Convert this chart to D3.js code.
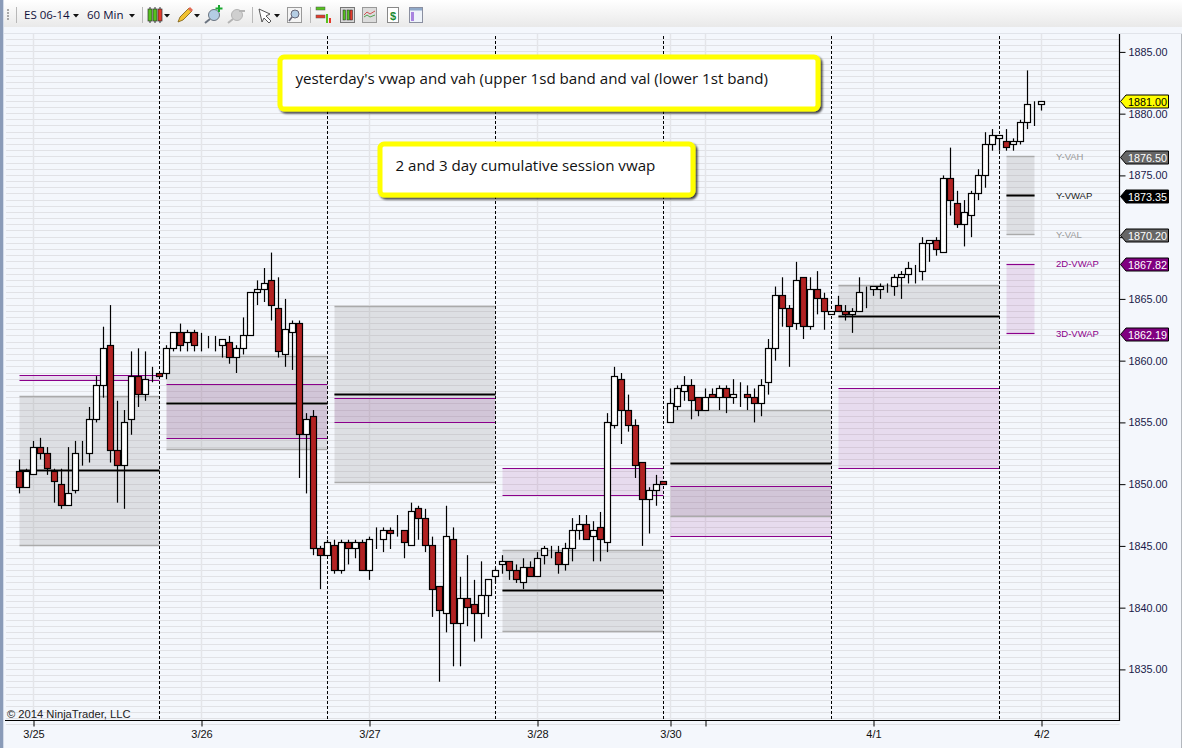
<!DOCTYPE html>
<html>
<head>
<meta charset="utf-8">
<script src="https://cdn.jsdelivr.net/npm/d3@7"></script>
<style>
  html, body { margin: 0; padding: 0; background: #f4f7fc; overflow: hidden; }
  svg { display: block; }
  text { font-family: "Liberation Sans", Arial, sans-serif; }
  .ui { font-family: "Open Sans", "Noto Sans", sans-serif; }
</style>
</head>
<body>
<div id="chart"></div>
<script>
// hourly candles
const opens = [
  1851,1849.75,1850.75,1853,1852.5,1851,1850,1848.25,1849.5,1852.5,
  1852.5,1855.25,1858,1861.25,1852.75,1851.5,1855.25,1858.75,1857.25,1858.75,
  1859,1859,1861,1862.25,1861.5,1862.25,1861.25,1861.25,1861.25,1861.25,
  1861.5,1860.25,1861,1862,1865.5,1865.75,1866.5,1864.25,1860.5,1862.25,
  1863,1854,1855.5,1844.75,1844.25,1845,1843,1845.25,1844.75,1845.25,
  1843,1845.75,1845.5,1846.25,1846,1846.25,1845,1848,1847.25,1845,
  1841.75,1839.5,1845.5,1838.75,1840.75,1840.25,1839.5,1841,1842.5,1843.5,
  1843.75,1843,1842,1843.25,1842.5,1844.25,1844.75,1844.5,1843.5,1844.75,
  1846.25,1846.75,1845.75,1846.5,1845.25,1854.75,1858.5,1856,1854.75,1851.75,
  1848.75,1849.5,1850.25,1855,1856.25,1857.5,1858,1857,1856,1857.25,
  1857,1857.75,1857,1857.25,1857.25,1857,1856.5,1858.25,1861,1865.25,
  1864.25,1863,1866.75,1862.75,1865.75,1865,1863.75,1864.5,1864,1863.75,
  1864,1865.5,1865.75,1865.75,1866,1866,1866.75,1867,1867.25,1867.25,
  1869.5,1869.75,1868.75,1874.75,1872.75,1871,1871.75,1873.5,1875,1877.5,
  1878,1877.75,1877.5,1877.75,1879.25,1880.75,1880.75
];
const closes = [
  1849.75,1851,1853,1852.5,1851.25,1850.25,1848.25,1849.25,1852.5,1852.5,
  1855.25,1858,1861,1852.75,1851.5,1855,1858.75,1857.25,1858.5,1858.75,
  1858.75,1861,1862.25,1861.25,1862.25,1861.25,1861.25,1861.25,1861.25,1861.75,
  1860.25,1861,1862,1865.5,1865.75,1866.25,1864.5,1860.75,1862.5,1863,
  1854,1855.25,1844.75,1844.25,1845.25,1843,1845.25,1844.75,1845.25,1843,
  1845.5,1845.75,1846.25,1846,1846,1845.25,1847.75,1847.25,1845,1841.5,
  1839.75,1845.75,1838.75,1840.75,1840,1839.5,1841,1842.25,1843,1843.75,
  1843,1842.25,1843.25,1842.5,1844,1844.75,1844.75,1843.5,1844.75,1846.25,
  1846.75,1845.5,1846.25,1845.5,1855,1858.75,1856,1854.75,1851.5,1848.75,
  1849.5,1850,1850,1856.5,1857.75,1858,1856.75,1856,1857,1857,
  1857.75,1857,1857.25,1857.25,1857,1856.5,1858,1861,1865.25,1864.25,
  1862.75,1866.5,1862.75,1865.75,1865,1864,1864,1864,1863.75,1864,
  1865.5,1865.5,1866,1866,1866,1866.75,1867,1867.5,1867.25,1869.5,
  1869.75,1869,1874.75,1873,1871,1872,1873.5,1875,1877.5,1878.25,
  1878.25,1877.25,1877.75,1879.25,1880.75,1880.75,1881
];
const highs = [
  1852,1851.25,1853.5,1853.75,1853,1851.25,1851.25,1853,1853.5,1853.5,
  1856.25,1858.75,1862.75,1864.5,1856.75,1856,1860.75,1861,1860.75,1859.5,
  1859,1861.25,1862.25,1863,1862.5,1862.5,1862.25,1862,1862,1861.75,
  1862,1861.25,1863.5,1865.5,1866.5,1867.5,1868.75,1866.75,1865,1863.25,
  1863.25,1855.75,1856,1845,1845.5,1845.5,1845.5,1845.5,1845.5,1845.5,
  1845.75,1846.5,1846.5,1846.5,1847.5,1846.25,1848.5,1848.25,1848,1845.75,
  1841.75,1848.25,1846.5,1842.5,1844.25,1842.25,1843.75,1842.25,1843.25,1844.25,
  1843.75,1843.5,1844,1843.75,1844.5,1845,1845,1845,1845.25,1847.25,
  1847.5,1847.5,1847,1847.75,1855.75,1859.5,1859,1857.25,1855.25,1851.75,
  1849.75,1850.75,1850.25,1857.75,1858,1858.75,1858.5,1857,1857.75,1857.75,
  1858,1858,1858.5,1858.25,1858,1857.75,1858.5,1861.75,1866,1866.75,
  1864.5,1868,1866.75,1866.75,1867.25,1865.5,1864,1865.25,1864.5,1864.25,
  1866.75,1866,1866,1866.25,1866.25,1867,1867.25,1868,1867.75,1870,
  1869.75,1870,1875,1877.25,1873.75,1873,1873.75,1875.5,1878.5,1878.75,
  1878.25,1878.75,1878,1879.5,1883.5,1881,1881
];
const lows = [
  1849.25,1849.75,1850.75,1852,1850.75,1848.5,1848,1848.25,1849.25,1851.5,
  1851.75,1855,1857,1851.75,1848.5,1848,1854,1856.25,1856.75,1858.25,
  1858.75,1858.5,1860.75,1860.75,1860.75,1860.75,1860.75,1861,1860.75,1860.25,
  1859.75,1859,1860.5,1862,1864.5,1864.75,1863.25,1860.25,1859.5,1859.25,
  1850.5,1849.25,1844.25,1841.5,1844.25,1842.75,1842.75,1843.5,1844,1843,
  1842.25,1844.75,1844.5,1844.75,1845.75,1844,1845,1845.5,1844.5,1839.25,
  1834,1838,1835.25,1835.25,1838.5,1837.25,1837.5,1839.25,1842,1842.75,
  1842.25,1842,1841.5,1842.5,1842.5,1843.5,1844,1842.75,1843,1843.75,
  1845.5,1845.5,1843.75,1843.75,1844.5,1854.5,1853.25,1854.25,1850.5,1845,
  1846,1848.25,1850,1855,1856,1856.75,1855.25,1855.5,1856,1857,
  1856,1855.75,1856.5,1856.25,1856,1855,1855.5,1857.25,1860,1862.75,
  1859.5,1862.5,1861.75,1862.5,1863.75,1862.5,1863.75,1864,1863.25,1862.25,
  1864,1864.25,1865.25,1865,1865.5,1865.25,1865,1866.25,1866.25,1866.5,
  1868,1868.5,1868.75,1871.75,1870.75,1869.25,1870,1873,1874,1877,
  1877,1877,1877,1877.5,1878.75,1879,1880.25
];

// one entry per session box (bar index where it starts and ends)
const boxStart = [0, 21, 45, 69, 93, 117, 141];
const boxEnd   = [20, 44, 68, 92, 116, 140, 145];
const vah  = [1857.1, 1860.35, 1864.4, 1844.65, 1856, 1866.1, 1876.5];
const val  = [1845.05, 1852.8, 1850.15, 1838.05, 1847.4, 1860.95, 1870.2];
const vwap = [1851.1, 1856.55, 1857.25, 1841.4, 1851.65, 1863.55, 1873.35];
const vwap2d = [1858.8, 1858.1, 1856.95, 1851.3, 1849.8, 1857.75, 1867.82];
const vwap3d = [1858.4, 1853.7, 1855, 1849.1, 1845.75, 1851.25, 1862.19];

const sessionBreaks = [20, 44, 68, 92, 116, 140];
const gridBars = [2, 26, 50, 74, 93, 98, 122, 146];
const dateBars = [2, 26, 50, 74, 93, 122, 146];
const dateLabels = ["3/25", "3/26", "3/27", "3/28", "3/30", "4/1", "4/2"];
const priceTicks = [1885, 1880, 1875, 1870, 1865, 1860, 1855, 1850, 1845, 1840, 1835];

const tagNames  = ["Y-VAH", "Y-VWAP", "Y-VAL", "2D-VWAP", "3D-VWAP"];
const tagPrices = [1876.5, 1873.35, 1870.2, 1867.82, 1862.19];
const tagFills  = ["#666666", "#000000", "#666666", "#800080", "#800080"];
const tagInk    = ["#999999", "#222222", "#999999", "#8b008b", "#8b008b"];
const lastPrice = 1881;

const notes = [
  { text: "yesterday's vwap and vah (upper 1sd band and val (lower 1st band)", x: 280, y: 57, w: 538, h: 52 },
  { text: "2 and 3 day cumulative session vwap", x: 380, y: 144, w: 313, h: 51 }
];

const width = 1182, height = 748;
const plot = { left: 5, right: 1119.5, top: 33, bottom: 720.5 };

const svg = d3.select("#chart").append("svg")
  .attr("width", width)
  .attr("height", height);

const x = d3.scaleLinear().domain([0, 146]).range([19.5, 1041.5]);
const y = d3.scaleLinear().domain([1835, 1885]).range([669.4, 51.9]);
const crisp = v => Math.round(v - 0.5) + 0.5;

// window + plot background
svg.append("rect").attr("width", width).attr("height", height).attr("fill", "#f4f7fc");
svg.append("rect").attr("width", 3).attr("height", height).attr("fill", "#8a9bb8");
svg.append("rect").attr("x", 3).attr("width", 1).attr("height", height).attr("fill", "#d3dbe8");
svg.append("rect").attr("x", 1181).attr("width", 1).attr("height", height).attr("fill", "#b4b8be");

const grid = svg.append("g");
grid.selectAll("line.h")
  .data(d3.range(1830.5, 1886.5, 0.5))
  .enter().append("line")
    .attr("class", "h")
    .attr("x1", 6).attr("x2", plot.right)
    .attr("y1", d => crisp(y(d))).attr("y2", d => crisp(y(d)))
    .attr("stroke", "#e1e2e6").attr("stroke-width", 1);
grid.selectAll("line.v")
  .data(gridBars)
  .enter().append("line")
    .attr("class", "v")
    .attr("x1", d => x(d)).attr("x2", d => x(d))
    .attr("y1", plot.top).attr("y2", plot.bottom)
    .attr("stroke", "#e4e5e9").attr("stroke-width", 1.5);

// session boxes
const boxes = svg.append("g").selectAll("g")
  .data(boxStart.map((s, i) => i))
  .enter().append("g");

boxes.append("rect")
  .attr("x", i => x(boxStart[i]))
  .attr("width", i => x(boxEnd[i]) - x(boxStart[i]))
  .attr("y", i => y(vah[i]))
  .attr("height", i => y(val[i]) - y(vah[i]))
  .attr("fill", "#808080").attr("fill-opacity", 0.2);
boxes.append("rect")
  .attr("x", i => x(boxStart[i]))
  .attr("width", i => x(boxEnd[i]) - x(boxStart[i]))
  .attr("y", i => y(vwap2d[i]))
  .attr("height", i => y(vwap3d[i]) - y(vwap2d[i]))
  .attr("fill", "#800080").attr("fill-opacity", 0.11);

function level(values, color, w) {
  boxes.append("line")
    .attr("x1", i => x(boxStart[i])).attr("x2", i => x(boxEnd[i]))
    .attr("y1", i => crisp(y(values[i]))).attr("y2", i => crisp(y(values[i])))
    .attr("stroke", color).attr("stroke-width", w);
}
level(vah, "#aaaaaa", 1.4);
level(val, "#aaaaaa", 1.4);
level(vwap2d, "#8b008b", 1.2);
level(vwap3d, "#8b008b", 1.2);
level(vwap, "#9a9a9a", 3);
level(vwap, "#000000", 1.6);

// session dividers
svg.append("g").selectAll("line")
  .data(sessionBreaks)
  .enter().append("line")
    .attr("x1", d => x(d)).attr("x2", d => x(d))
    .attr("y1", 36).attr("y2", plot.bottom)
    .attr("stroke", "#000").attr("stroke-width", 1)
    .attr("stroke-dasharray", "3,2");

// candles
const candles = svg.append("g").selectAll("g")
  .data(opens.map((o, i) => i))
  .enter().append("g");

candles.append("line")
  .attr("x1", i => x(i)).attr("x2", i => x(i))
  .attr("y1", i => y(highs[i])).attr("y2", i => y(lows[i]))
  .attr("stroke", "#000").attr("stroke-width", 1.2);

candles.append("rect")
  .attr("x", i => x(i) - 3)
  .attr("width", 6)
  .attr("y", i => crisp(y(Math.max(opens[i], closes[i]))))
  .attr("height", i => crisp(y(Math.min(opens[i], closes[i]))) - crisp(y(Math.max(opens[i], closes[i]))))
  .attr("fill", i => closes[i] < opens[i] ? "#b22222" : "#ffffff")
  .attr("stroke", "#000").attr("stroke-width", 1.2);

// axes
const yAxis = d3.axisRight(y)
  .tickValues(priceTicks)
  .tickFormat(d => d.toFixed(2))
  .tickSize(6)
  .tickPadding(3);
const yG = svg.append("g")
  .attr("transform", `translate(${plot.right},0)`)
  .call(yAxis);
yG.select(".domain").attr("d", `M0,${plot.top}V${plot.bottom + 0.5}`).attr("stroke", "#000").attr("stroke-width", 1.2);
yG.selectAll("text").attr("font-size", 10.8).attr("fill", "#1a1a4a")
  .style("font-family", '"Liberation Sans", Arial, sans-serif');

const dateOf = new Map(dateBars.map((b, i) => [b, dateLabels[i]]));
const xAxis = d3.axisBottom(x)
  .tickValues(gridBars)
  .tickFormat(d => dateOf.get(d) || "")
  .tickSize(6)
  .tickPadding(4);
const xG = svg.append("g")
  .attr("transform", `translate(0,${plot.bottom})`)
  .call(xAxis);
xG.select(".domain").attr("d", `M${plot.left},0H${plot.right}`).attr("stroke", "#000").attr("stroke-width", 1.2);
xG.selectAll("text").attr("font-size", 11).attr("fill", "#111")
  .style("font-family", '"Liberation Sans", Arial, sans-serif');

svg.append("text")
  .attr("x", 7).attr("y", 718)
  .attr("font-size", 11.2).attr("fill", "#222")
  .text("\u00a9 2014 NinjaTrader, LLC");

// price tags on the axis
function tag(price, fill, ink, label) {
  const py = Math.round(y(price));
  svg.append("path")
    .attr("d", `M1120.5,${py + 0.5}l5.5,-6.5h42.5v13h-42.5z`)
    .attr("fill", fill).attr("stroke", "#000").attr("stroke-width", 1);
  svg.append("text")
    .attr("x", 1128).attr("y", py + 4.5)
    .attr("font-size", 10.8).attr("fill", ink)
    .text(label);
}
tagNames.forEach((name, i) => {
  tag(tagPrices[i], tagFills[i], "#ffffff", tagPrices[i].toFixed(2));
  svg.append("text")
    .attr("x", 1056).attr("y", y(tagPrices[i]) + 3)
    .attr("font-size", 9.5).attr("fill", tagInk[i])
    .text(name);
});
tag(lastPrice, "#ffff00", "#000000", lastPrice.toFixed(2));

// text notes
const defs = svg.append("defs");
const shadow = defs.append("filter").attr("id", "noteShadow")
  .attr("x", "-5%").attr("y", "-10%").attr("width", "110%").attr("height", "125%");
shadow.append("feDropShadow")
  .attr("dx", 2).attr("dy", 2).attr("stdDeviation", 1)
  .attr("flood-color", "#000").attr("flood-opacity", 0.75);

const noteG = svg.append("g").selectAll("g").data(notes).enter().append("g");
noteG.append("rect")
  .attr("x", d => d.x).attr("y", d => d.y)
  .attr("width", d => d.w).attr("height", d => d.h)
  .attr("rx", 4)
  .attr("fill", "#fff").attr("stroke", "#ffff00").attr("stroke-width", 5)
  .attr("filter", "url(#noteShadow)");
noteG.append("text")
  .attr("class", "ui")
  .attr("x", d => d.x + 15.5).attr("y", d => d.y + 27)
  .attr("font-size", 15.15).attr("fill", "#111")
  .style("font-family", '"Open Sans", sans-serif')
  .text(d => d.text);

// toolbar
const bar = svg.append("g");
const barGrad = defs.append("linearGradient").attr("id", "barGrad")
  .attr("x1", 0).attr("x2", 0).attr("y1", 0).attr("y2", 1);
barGrad.append("stop").attr("offset", 0).attr("stop-color", "#ffffff");
barGrad.append("stop").attr("offset", 1).attr("stop-color", "#e9e9e9");
bar.append("rect").attr("x", 4).attr("width", 1178).attr("height", 27).attr("fill", "url(#barGrad)");
bar.append("rect").attr("x", 4).attr("y", 27).attr("width", 1178).attr("height", 6).attr("fill", "#f4f7fc");
bar.append("line").attr("x1", 4).attr("x2", 1182).attr("y1", 33.5).attr("y2", 33.5).attr("stroke", "#e1e4ea");

[9, 12, 15, 18].forEach(d => {
  bar.append("rect").attr("x", 7).attr("y", d).attr("width", 2).attr("height", 2).attr("fill", "#a8a8a8");
});
[16.5, 142.5, 252.5, 310.5].forEach(d => {
  bar.append("line").attr("x1", d).attr("x2", d).attr("y1", 7).attr("y2", 23).attr("stroke", "#b8b8b8");
});

function label(txt, px) {
  bar.append("text").attr("class", "ui").attr("x", px).attr("y", 19)
    .attr("font-size", 11.5).attr("fill", "#10103a")
    .style("font-family", '"Open Sans", sans-serif').text(txt);
}
label("ES 06-14", 24);
label("60 Min", 87);
[76, 132, 167, 197, 277].forEach(d => {
  bar.append("path").attr("d", `M${d - 3},14h6l-3,3.5z`).attr("fill", "#111");
});

// candle button
[[148, "#55c21e"], [153, "#55c21e"], [158, "#e43b2c"]].forEach(d => {
  bar.append("line").attr("x1", d[0] + 2).attr("x2", d[0] + 2).attr("y1", 7).attr("y2", 23).attr("stroke", "#333");
  bar.append("rect").attr("x", d[0]).attr("y", 9).attr("width", 4).attr("height", 12)
    .attr("fill", d[1]).attr("stroke", "#333").attr("stroke-width", 0.7);
});
// pencil
bar.append("path").attr("d", "M178,22l2,-5l9,-9l3,3l-9,9z").attr("fill", "#f2c230").attr("stroke", "#7a5a10").attr("stroke-width", 0.8);
bar.append("path").attr("d", "M188,9l2,-2l3,3l-2,2z").attr("fill", "#e26a55");
// zoom in / out
function lens(cx, col, stem) {
  bar.append("line").attr("x1", cx - 4).attr("x2", cx - 9).attr("y1", 19).attr("y2", 23).attr("stroke", stem).attr("stroke-width", 2);
  bar.append("circle").attr("cx", cx).attr("cy", 15).attr("r", 5.5).attr("fill", col).attr("stroke", stem).attr("stroke-width", 1);
}
lens(214, "#b4cde4", "#6b7480");
bar.append("path").attr("d", "M218,12v-2.5h-2.5v-2h2.5v-2.5h2v2.5h2.5v2h-2.5v2.5z").attr("fill", "#1aa830");
lens(237, "#cfcfcf", "#b4b4b4");
bar.append("rect").attr("x", 239).attr("y", 10).attr("width", 6).attr("height", 2).attr("fill", "#b4b4b4");
// pointer
bar.append("path").attr("d", "M259,9l11,5l-4,2l5,5l-2,2l-5,-5l-2,4z").attr("fill", "#fff").attr("stroke", "#444").attr("stroke-width", 0.9);
// boxed lens
bar.append("rect").attr("x", 287.5).attr("y", 7.5).attr("width", 14).attr("height", 15).attr("fill", "#f4f4f4").attr("stroke", "#999");
bar.append("line").attr("x1", 292).attr("x2", 289).attr("y1", 17).attr("y2", 21).attr("stroke", "#667").attr("stroke-width", 1.6);
bar.append("circle").attr("cx", 295).attr("cy", 14).attr("r", 4).attr("fill", "#b4cde4").attr("stroke", "#667");
// chart buttons
bar.append("rect").attr("x", 316).attr("y", 7).attr("width", 9).attr("height", 3).attr("fill", "#55c21e").attr("stroke", "#555").attr("stroke-width", 0.5);
bar.append("rect").attr("x", 316).attr("y", 15).attr("width", 9).attr("height", 3).attr("fill", "#e43b2c").attr("stroke", "#555").attr("stroke-width", 0.5);
bar.append("rect").attr("x", 326).attr("y", 14).attr("width", 2).attr("height", 9).attr("fill", "#55c21e");
bar.append("rect").attr("x", 329).attr("y", 18).attr("width", 2).attr("height", 5).attr("fill", "#e43b2c");
bar.append("rect").attr("x", 340.5).attr("y", 7.5).attr("width", 14).attr("height", 15).attr("fill", "#d8d8d8").attr("stroke", "#777");
[[344, "#55c21e"], [348, "#55c21e"], [351, "#e43b2c"]].forEach(d => {
  bar.append("rect").attr("x", d[0] - 1).attr("y", 10).attr("width", 2.5).attr("height", 10).attr("fill", d[1]).attr("stroke", "#222").attr("stroke-width", 0.5);
});
bar.append("rect").attr("x", 362.5).attr("y", 7.5).attr("width", 14).attr("height", 15).attr("fill", "#dcdcdc").attr("stroke", "#999");
bar.append("path").attr("d", "M364,15l3,-3l3,2l5,-3").attr("fill", "none").attr("stroke", "#d05050");
bar.append("path").attr("d", "M364,17l3,-2l3,2l5,-2").attr("fill", "none").attr("stroke", "#50a050");
bar.append("rect").attr("x", 387.5).attr("y", 7.5).attr("width", 11).attr("height", 15).attr("fill", "#fff").attr("stroke", "#888");
bar.append("text").attr("x", 390).attr("y", 20).attr("font-size", 11).attr("font-weight", "bold").attr("fill", "#1a8a30").text("$");
bar.append("rect").attr("x", 409.5).attr("y", 7.5).attr("width", 13).attr("height", 15).attr("fill", "#eef3fa").attr("stroke", "#8a8fa0");
bar.append("rect").attr("x", 410).attr("y", 8).attr("width", 12).attr("height", 2.5).attr("fill", "#8fa8c8");
bar.append("rect").attr("x", 411).attr("y", 12).attr("width", 3).attr("height", 9).attr("fill", "#a884e0");
</script>
</body>
</html>
